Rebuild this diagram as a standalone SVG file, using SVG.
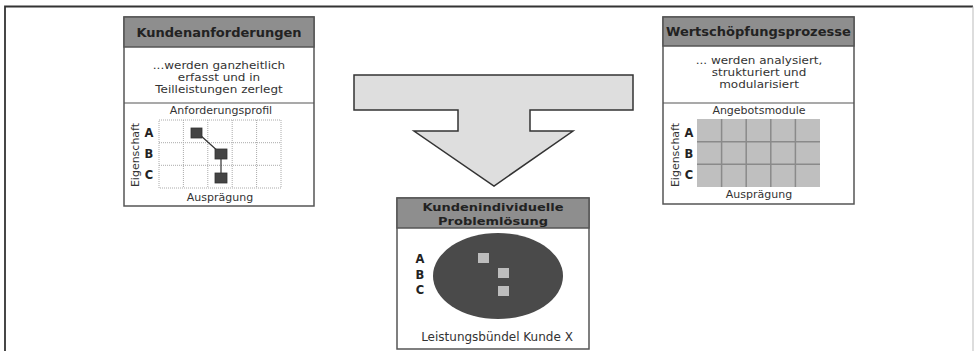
<svg xmlns="http://www.w3.org/2000/svg" width="975" height="351" viewBox="0 0 975 351">
<style>
.box{fill:#fff;stroke:#555;stroke-width:1.5}
.hdr{fill:#8e8e8e;stroke:#555;stroke-width:1.5}
.sep{stroke:#555;stroke-width:1.2}
.ht{font-family:"DejaVu Sans",Verdana,sans-serif;font-weight:bold;font-size:13px;fill:#222}
.t{font-family:"DejaVu Sans",Verdana,sans-serif;font-size:12px;fill:#333;text-anchor:middle}
.s{font-family:"DejaVu Sans",Verdana,sans-serif;font-size:11px;fill:#333;text-anchor:middle}
.b{font-family:"DejaVu Sans",Verdana,sans-serif;font-weight:bold;font-size:11.5px;fill:#222;text-anchor:middle}
.dot{stroke:#aaa;stroke-width:1;stroke-dasharray:1 1;fill:none}
.sq{fill:#444;stroke:#333;stroke-width:0.8}
.gl{stroke:#8a8a8a;stroke-width:1.5}
.lsq{fill:#bdbdbd}
</style>
<rect width="975" height="351" fill="#fff"/>
<path d="M5 351 V6.5 H973" fill="none" stroke="#333" stroke-width="1.8"/>
<path d="M973 6.5 V351" fill="none" stroke="#bbb" stroke-width="1"/>

<g id="connectors">
<polygon points="354,75 633,75 633,110 530,110 530,131 573,131 494,186 414,131 458,131 458,110 354,110" fill="#dedede" stroke="#333" stroke-width="1.5"/>
</g>

<g id="kundenanforderungen">
<rect class="box" x="124" y="17" width="190" height="189"/>
<rect class="hdr" x="124" y="17" width="190" height="30"/>
<text class="ht" x="219" y="37" text-anchor="middle">Kundenanforderungen</text>
<text class="t" transform="translate(219,69) scale(1,0.85)">...werden ganzheitlich</text>
<text class="t" transform="translate(219,81.2) scale(1,0.85)">erfasst und in</text>
<text class="t" transform="translate(219,93.4) scale(1,0.85)">Teilleistungen zerlegt</text>
<line class="sep" x1="124" y1="103" x2="314" y2="103"/>
<text class="s" x="221" y="114">Anforderungsprofil</text>
<rect class="dot" x="159" y="120" width="122" height="68"/>
<path class="dot" d="M183.4 120V188M207.8 120V188M232.2 120V188M256.6 120V188M159 142.7H281M159 165.3H281"/>
<path d="M200 135 L220 153 M221 157 V177" stroke="#333" stroke-width="1.2" fill="none"/>
<rect class="sq" x="191" y="128" width="11" height="10"/>
<rect class="sq" x="215" y="149" width="12" height="10"/>
<rect class="sq" x="215" y="173" width="12" height="10"/>
<text class="b" x="149" y="137">A</text>
<text class="b" x="149" y="158">B</text>
<text class="b" x="149" y="179">C</text>
<text class="s" transform="translate(139,155) rotate(-90)">Eigenschaft</text>
<text class="s" x="220" y="201">Ausprägung</text>
</g>

<g id="wertschoepfungsprozesse">
<rect class="box" x="663" y="17" width="191" height="187"/>
<rect class="hdr" x="663" y="17" width="191" height="29"/>
<text class="ht" x="666" y="36">Wertschöpfungsprozesse</text>
<text class="t" transform="translate(759,64) scale(1,0.85)">... werden analysiert,</text>
<text class="t" transform="translate(759,76.2) scale(1,0.85)">strukturiert und</text>
<text class="t" transform="translate(759,88.4) scale(1,0.85)">modularisiert</text>
<line class="sep" x1="663" y1="103" x2="854" y2="103"/>
<text class="s" x="759" y="114">Angebotsmodule</text>
<rect x="697" y="119" width="123" height="68" fill="#bfbfbf"/>
<path class="gl" d="M721.6 119V187M746.2 119V187M770.8 119V187M795.4 119V187M697 141.7H820M697 164.3H820"/>
<text class="b" x="689" y="137">A</text>
<text class="b" x="689" y="158">B</text>
<text class="b" x="689" y="179">C</text>
<text class="s" transform="translate(679,155) rotate(-90)">Eigenschaft</text>
<text class="s" x="759" y="198">Ausprägung</text>
</g>

<g id="problemloesung">
<rect class="box" x="397" y="198" width="192" height="151"/>
<rect class="hdr" x="397" y="198" width="192" height="30"/>
<text class="ht" text-anchor="middle" transform="translate(493,211) scale(1,0.8)">Kundenindividuelle</text>
<text class="ht" text-anchor="middle" transform="translate(493,224.5) scale(1,0.8)">Problemlösung</text>
<ellipse cx="498" cy="276" rx="65" ry="43" fill="#4a4a4a"/>
<rect class="lsq" x="478" y="253" width="11" height="10"/>
<rect class="lsq" x="498" y="268" width="11" height="10"/>
<rect class="lsq" x="498" y="286" width="11" height="10"/>
<text class="b" x="420" y="263">A</text>
<text class="b" x="420" y="279">B</text>
<text class="b" x="420" y="294">C</text>
<text class="t" x="497" y="341">Leistungsbündel Kunde X</text>
</g>
</svg>
